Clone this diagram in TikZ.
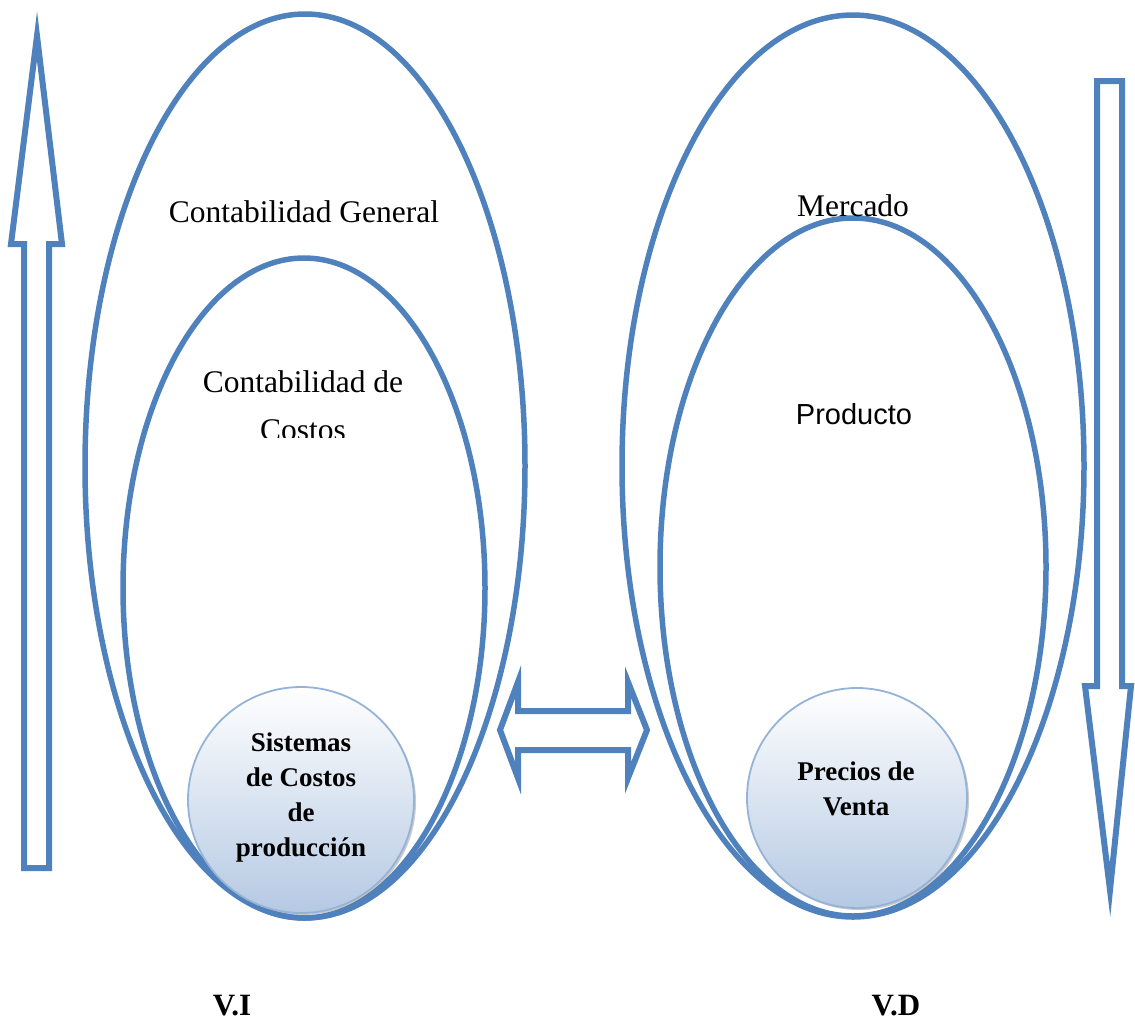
\documentclass[tikz,border=0pt]{standalone}
\usepackage{fontspec}
\setmainfont{Liberation Serif}
\newfontfamily\arialf{Liberation Sans}
\usetikzlibrary{shapes.geometric,shadows}
\definecolor{ablue}{HTML}{4F81BD}
\definecolor{cborder}{HTML}{95B3D7}
\definecolor{cfill}{HTML}{B5C9E3}
\begin{document}
\begin{tikzpicture}[x=1pt,y=-1pt,
  ring/.style={draw=ablue,line width=5.5pt,ellipse,inner sep=0pt},
  ball/.style={circle,draw=cborder,line width=1.8pt,inner sep=0pt,
    top color=white,bottom color=cfill,
    drop shadow={shadow xshift=2pt,shadow yshift=-2pt,opacity=0.35,fill=black!60}},
  outline/.style={draw=ablue,line width=6pt,line join=miter,fill=white},
  lbl/.style={font=\fontsize{31.5}{36}\selectfont,anchor=base,inner sep=0pt},
  bold/.style={font=\fontsize{27}{35}\selectfont\bfseries,align=center,inner sep=0pt},
  vlbl/.style={font=\fontsize{31}{36}\selectfont\bfseries,anchor=base,inner sep=0pt}]
\useasboundingbox (0,0) rectangle (1135,1023);
% ellipses
\node[ring,minimum width=440pt,minimum height=904pt] (lout) at (305,466) {};
\node[ring,minimum width=362pt,minimum height=660pt] (lin) at (304,588) {};
\node[ring,minimum width=462pt,minimum height=902pt] (rout) at (853,466) {};
\node[ring,minimum width=386pt,minimum height=698pt] (rin) at (853,567) {};
% circles
\node[ball,minimum size=226pt] (lc) at (301,800) {};
\node[ball,minimum size=220pt] (rc) at (857,798) {};
\node[bold] (lct) at (301,797) {Sistemas\\de Costos\\de\\producción};
\node[bold] (rct) at (856,789) {Precios de\\Venta};
% labels
\node[lbl] (cg) at (304,222) {Contabilidad General};
\node[lbl] (cd) at (303,392) {Contabilidad de};
\begin{scope}
\clip (150,300) rectangle (460,437);
\node[lbl] (cc) at (303,440) {Costos};
\end{scope}
\node[lbl] (mer) at (853,216) {Mercado};
\node[lbl,font=\arialf\fontsize{29}{34}\selectfont] (pro) at (854,424) {Producto};
\node[vlbl] (vi) at (232,1015) {V.I};
\node[vlbl] (vd) at (896,1015) {V.D};
% up arrow
\draw[outline] (24,868) -- (24,244) -- (11,244) -- (37,36) -- (62,244) -- (49,244) -- (49,868) -- cycle;
% down arrow
\draw[outline] (1097,81) -- (1122,81) -- (1122,686) -- (1131,686) -- (1110,890) -- (1085,686) -- (1097,686) -- cycle;
% double arrow
\draw[outline] (500,730) -- (518,682) -- (518,711) -- (628,711) -- (628,682) -- (647,730) -- (628,778) -- (628,750) -- (518,750) -- (518,778) -- cycle;
\end{tikzpicture}
\end{document}
